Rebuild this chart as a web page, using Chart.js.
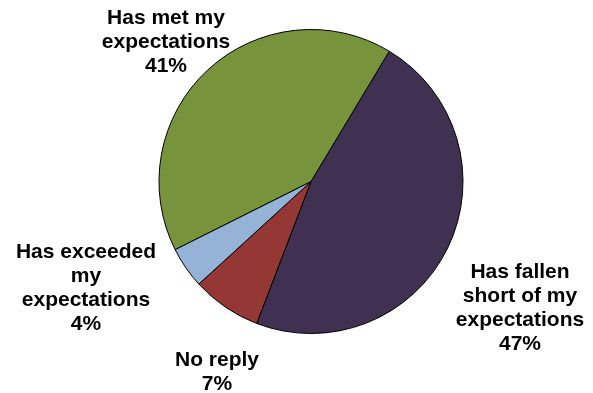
<!DOCTYPE html>
<html>
<head>
<meta charset="utf-8">
<script src="https://cdn.jsdelivr.net/npm/chart.js@4/dist/chart.umd.min.js"></script>
<style>
html,body{margin:0;padding:0;background:#fff;}
#wrap{width:593px;height:393px;position:relative;}
</style>
</head>
<body>
<div id="wrap"><canvas id="c" width="593" height="393"></canvas></div>
<script>
const categories = [
  ["Has fallen", "short of my", "expectations"],
  ["No reply"],
  ["Has exceeded", "my", "expectations"],
  ["Has met my", "expectations"]
];
const values = [47.2, 7.4, 4.4, 41.0];
const colors = ["#403152", "#953735", "#95B3D7", "#77933C"];

// label anchor (center of text block) per slice - layout only
const labelPos = [
  {x: 520, y: 272},
  {x: 217, y: 360},
  {x: 86, y: 252},
  {x: 166, y: 18}
];

const labelPlugin = {
  id: 'sliceLabels',
  afterDatasetsDraw(chart) {
    const ctx = chart.ctx;
    const ds = chart.data.datasets[0].data;
    const total = ds.reduce((a, b) => a + b, 0);
    ctx.save();
    ctx.fillStyle = '#000';
    ctx.font = 'bold 21px "Liberation Sans", Arial, sans-serif';
    ctx.textAlign = 'center';
    ctx.textBaseline = 'middle';
    const lh = 24;
    chart.data.labels.forEach((lines, i) => {
      const pct = Math.round(ds[i] / total * 100) + '%';
      const all = lines.concat([pct]);
      const p = labelPos[i];
      all.forEach((t, k) => ctx.fillText(t, p.x, p.y + k * lh));
    });
    ctx.restore();
  }
};

new Chart(document.getElementById('c'), {
  type: 'pie',
  data: {
    labels: categories,
    datasets: [{
      data: values,
      backgroundColor: colors,
      borderColor: '#000',
      borderWidth: 1,
      hoverOffset: 0,
      offset: 0
    }]
  },
  options: {
    responsive: false,
    animation: false,
    rotation: 31,
    layout: {padding: {top: 29, bottom: 59, left: 100, right: 71}},
    plugins: {legend: {display: false}, tooltip: {enabled: false}}
  },
  plugins: [labelPlugin]
});
</script>
</body>
</html>
